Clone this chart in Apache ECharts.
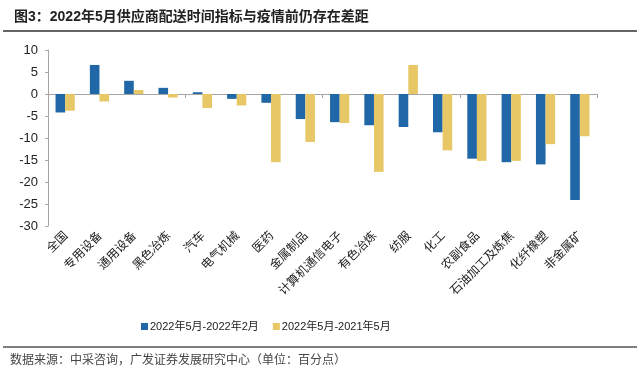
<!DOCTYPE html>
<html>
<head>
<meta charset="utf-8">
<script src="https://cdn.jsdelivr.net/npm/echarts@6/dist/echarts.min.js"></script>
<style>
  html, body { margin: 0; padding: 0; background: #fff; }
  #main { width: 640px; height: 376px; }
</style>
</head>
<body>
<div id="main"></div>
<script type="text/javascript">
    // 行业
    var categories = ['全国', '专用设备', '通用设备', '黑色冶炼', '汽车', '电气机械', '医药', '金属制品',
        '计算机通信电子', '有色冶炼', '纺服', '化工', '农副食品', '石油加工及炼焦', '化纤橡塑', '非金属矿'];
    // 2022年5月-2022年2月
    var vsFeb = [-4.2, 6.6, 3.0, 1.4, 0.4, -1.1, -2.0, -5.7, -6.4, -7.1, -7.5, -8.7, -14.7, -15.5, -16.0, -24.1];
    // 2022年5月-2021年5月
    var vsLastYear = [-3.8, -1.7, 0.9, -0.8, -3.2, -2.6, -15.5, -10.9, -6.6, -17.7, 6.6, -12.8, -15.2, -15.2, -11.4, -9.6];
    var seriesNames = ['2022年5月-2022年2月', '2022年5月-2021年5月'];

    var cjk = '"Noto Sans CJK SC", sans-serif';
    var latin = '"Liberation Sans", Arial, "Noto Sans CJK SC", sans-serif';

    var myChart = echarts.init(document.getElementById('main'));
    var option = {
        animation: false,
        title: {
            text: '图3：2022年5月供应商配送时间指标与疫情前仍存在差距',
            left: 9,
            top: 5,
            textStyle: {fontSize: 14, fontWeight: 'bold', color: '#222', fontFamily: latin}
        },
        legend: {
            data: seriesNames,
            top: 316,
            left: 136,
            itemWidth: 7,
            itemHeight: 7,
            itemGap: 14,
            icon: 'rect',
            textStyle: {fontSize: 11, color: '#222', fontFamily: latin, padding: [0, 0, 0, -3]}
        },
        grid: {left: 48, right: 43, top: 50, bottom: 150},
        xAxis: [
            {
                type: 'category',
                data: categories,
                axisLine: {onZero: true, lineStyle: {color: '#a6a6a6'}},
                axisTick: {show: true, length: 4, lineStyle: {color: '#a6a6a6'}},
                axisLabel: {show: false}
            },
            {
                type: 'category',
                data: categories,
                position: 'bottom',
                axisLine: {show: false},
                axisTick: {show: false},
                axisLabel: {
                    rotate: 45,
                    margin: 7,
                    interval: 0,
                    fontSize: 12,
                    color: '#222',
                    fontFamily: cjk
                }
            }
        ],
        yAxis: {
            type: 'value',
            min: -30,
            max: 10,
            interval: 5,
            splitLine: {show: false},
            axisLine: {show: true, lineStyle: {color: '#a6a6a6'}},
            axisTick: {show: true, length: 3, lineStyle: {color: '#a6a6a6'}},
            axisLabel: {fontSize: 13, color: '#222', fontFamily: latin, margin: 10}
        },
        series: [
            {
                name: seriesNames[0],
                type: 'bar',
                data: vsFeb,
                barWidth: '28%',
                barGap: '0%',
                itemStyle: {color: '#1f67a6'}
            },
            {
                name: seriesNames[1],
                type: 'bar',
                data: vsLastYear,
                barWidth: '28%',
                itemStyle: {color: '#e8c866'}
            }
        ],
        graphic: [
            {type: 'line', shape: {x1: 3, y1: 31, x2: 637, y2: 31}, style: {stroke: '#333', lineWidth: 1.5}},
            {type: 'line', shape: {x1: 3, y1: 347, x2: 637, y2: 347}, style: {stroke: '#555', lineWidth: 1.5}},
            {
                type: 'text', left: 10, top: 353,
                style: {text: '数据来源：中采咨询，广发证券发展研究中心（单位：百分点）', fontSize: 12, fill: '#444', fontFamily: cjk}
            }
        ]
    };
    myChart.setOption(option);
</script>
</body>
</html>
